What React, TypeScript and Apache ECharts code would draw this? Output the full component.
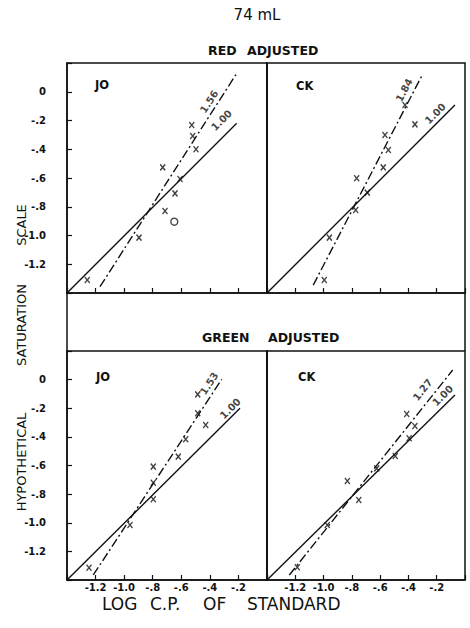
import React, { useEffect, useRef } from "react";
import * as echarts from "echarts";

// ---- data ----
const xTicks = [-1.2, -1.0, -0.8, -0.6, -0.4, -0.2];
const yTicks = [0, -0.2, -0.4, -0.6, -0.8, -1.0, -1.2];

// Red adjusted, JO
const joRedX = [-0.527, -0.52, -0.497, -0.73, -0.609, -0.644, -0.714, -0.896, -1.258];
const joRedY = [-0.231, -0.308, -0.4, -0.526, -0.607, -0.707, -0.83, -1.015, -1.31];
const joRedCircleX = [-0.649];
const joRedCircleY = [-0.904];
const joRedUnitLine = [[-1.4, -1.4], [-0.212, -0.219]];
const joRedFitLine = [[-1.169, -1.356], [-0.212, 0.128]];

// Red adjusted, CK
const ckRedX = [-0.424, -0.354, -0.566, -0.542, -0.578, -0.766, -0.691, -0.773, -0.959, -0.995];
const ckRedY = [-0.092, -0.227, -0.301, -0.405, -0.526, -0.602, -0.702, -0.823, -1.015, -1.31];
const ckRedUnitLine = [[-1.4, -1.4], [-0.071, -0.092]];
const ckRedFitLine = [[-1.073, -1.345], [-0.299, 0.123]];

// Green adjusted, JO
const joGreenX = [-0.485, -0.485, -0.429, -0.569, -0.621, -0.796, -0.796, -0.796, -0.959, -1.246];
const joGreenY = [-0.103, -0.235, -0.317, -0.417, -0.538, -0.608, -0.72, -0.836, -1.016, -1.314];
const joGreenUnitLine = [[-1.4, -1.4], [-0.189, -0.2]];
const joGreenFitLine = [[-1.216, -1.365], [-0.317, 0.002]];

// Green adjusted, CK
const ckGreenX = [-0.412, -0.354, -0.395, -0.493, -0.624, -0.832, -0.751, -0.974, -1.186];
const ckGreenY = [-0.24, -0.324, -0.41, -0.534, -0.62, -0.708, -0.841, -1.016, -1.311];
const ckGreenUnitLine = [[-1.4, -1.4], [-0.071, -0.107]];
const ckGreenFitLine = [[-1.242, -1.365], [-0.087, 0.067]];

// slope labels
const slopeLabels = ["1.56", "1.84", "1.53", "1.27"];
const unitLabel = "1.00";

const FONT = "DejaVu Sans";

export default function App() {
  const ref = useRef<HTMLDivElement>(null);
  useEffect(() => {
    if (!ref.current) return;
    const chart = echarts.init(ref.current, undefined, { renderer: "svg" });

    const grids = [
      { left: 67, top: 63, width: 200, height: 230 },
      { left: 267, top: 63, width: 198, height: 230 },
      { left: 67, top: 351, width: 200, height: 229 },
      { left: 267, top: 351, width: 198, height: 229 },
    ];

    const panels = [
      { xs: joRedX, ys: joRedY, unit: joRedUnitLine, fit: joRedFitLine, fitLabel: slopeLabels[0],
        fitLabelAt: [-0.405, -0.069], fitRot: 57, unitLabelAt: [-0.318, -0.198] },
      { xs: ckRedX, ys: ckRedY, unit: ckRedUnitLine, fit: ckRedFitLine, fitLabel: slopeLabels[1],
        fitLabelAt: [-0.43, 0.011], fitRot: 62, unitLabelAt: [-0.21, -0.152] },
      { xs: joGreenX, ys: joGreenY, unit: joGreenUnitLine, fit: joGreenFitLine, fitLabel: slopeLabels[2],
        fitLabelAt: [-0.405, -0.027], fitRot: 57, unitLabelAt: [-0.257, -0.202] },
      { xs: ckGreenX, ys: ckGreenY, unit: ckGreenUnitLine, fit: ckGreenFitLine, fitLabel: slopeLabels[3],
        fitLabelAt: [-0.3, -0.071], fitRot: 52, unitLabelAt: [-0.158, -0.112] },
    ];

    const fmt = (allowed: number[]) => (v: number) => {
      const r = Math.round(v * 10) / 10;
      if (!allowed.some((a) => Math.abs(a - r) < 1e-6)) return "";
      if (r === 0) return "0";
      return r.toFixed(1).replace("-0.", "-.");
    };

    const labelStyle = { fontFamily: FONT, fontSize: 10, fontWeight: "bold", color: "#111" };

    const series: any[] = [];
    panels.forEach((p, i) => {
      series.push({
        type: "scatter",
        xAxisIndex: i,
        yAxisIndex: i,
        symbol: "path://M0,0L10,12M10,0L0,12",
        symbolSize: [5, 6],
        itemStyle: { color: "none", borderColor: "#111", borderWidth: 1.4 },
        data: p.xs.map((x, k) => [x, p.ys[k]]),
        silent: true,
      });
      series.push({
        type: "line",
        xAxisIndex: i,
        yAxisIndex: i,
        data: p.unit,
        showSymbol: false,
        symbol: "none",
        lineStyle: { color: "#111", width: 1.4, type: "solid" },
        silent: true,
      });
      series.push({
        type: "line",
        xAxisIndex: i,
        yAxisIndex: i,
        data: p.fit,
        showSymbol: false,
        symbol: "none",
        lineStyle: { color: "#111", width: 1.4, type: [9, 3, 2, 3] },
        silent: true,
      });
      series.push({
        type: "scatter",
        xAxisIndex: i,
        yAxisIndex: i,
        symbolSize: 0,
        silent: true,
        data: [
          { value: p.fitLabelAt, label: { formatter: p.fitLabel, rotate: p.fitRot } },
          { value: p.unitLabelAt, label: { formatter: unitLabel, rotate: 45 } },
        ],
        label: { show: true, position: "inside", ...labelStyle },
      });
    });
    series.push({
      type: "scatter",
      xAxisIndex: 0,
      yAxisIndex: 0,
      symbol: "circle",
      symbolSize: 7,
      itemStyle: { color: "none", borderColor: "#111", borderWidth: 1.3 },
      data: joRedCircleX.map((x, k) => [x, joRedCircleY[k]]),
      silent: true,
    });

    const text = (t: string, x: number, y: number, size: number, weight: string, align = "left", rotation = 0) => ({
      type: "text",
      x,
      y,
      rotation,
      silent: true,
      style: {
        text: t,
        fontFamily: FONT,
        fontSize: size,
        fontWeight: weight,
        fill: "#111",
        textAlign: align,
        textVerticalAlign: "middle",
      },
    });

    const option: any = {
      animation: false,
      grid: grids.map((g) => ({ ...g, show: true, borderColor: "#111", borderWidth: 1.5 })),
      xAxis: grids.map((g, i) => ({
        type: "value",
        gridIndex: i,
        min: -1.4,
        max: 0,
        interval: 0.2,
        position: "bottom",
        axisLine: { show: true, onZero: false, lineStyle: { color: "#111", width: 1.5 } },
        axisTick: { show: true, inside: true, length: 5, lineStyle: { color: "#111", width: 1.2 } },
        axisLabel: { show: i >= 2, margin: 2, formatter: fmt(xTicks), ...labelStyle },
        splitLine: { show: false },
      })),
      yAxis: grids.map((g, i) => ({
        type: "value",
        gridIndex: i,
        min: -1.4,
        max: 0.2,
        interval: 0.2,
        position: "left",
        axisLine: { show: true, onZero: false, lineStyle: { color: "#111", width: 1.5 } },
        axisTick: { show: i % 2 === 0, inside: true, length: 5, lineStyle: { color: "#111", width: 1.2 } },
        axisLabel: { show: i % 2 === 0, margin: 21, formatter: fmt(yTicks), ...labelStyle },
        splitLine: { show: false },
      })),
      series,
      graphic: [
        { type: "line", silent: true, shape: { x1: 67, y1: 293, x2: 67, y2: 351 }, style: { stroke: "#111", lineWidth: 1.5 } },
        { type: "line", silent: true, shape: { x1: 465, y1: 293, x2: 465, y2: 351 }, style: { stroke: "#111", lineWidth: 1.5 } },
        text("74 mL", 257, 15, 15, "normal", "center"),
        text("RED", 208, 50, 12.5, "bold"),
        text("ADJUSTED", 247, 50, 12.5, "bold"),
        text("GREEN", 202, 337, 12.5, "bold"),
        text("ADJUSTED", 268, 337, 12.5, "bold"),
        text("JO", 95, 85, 11.5, "bold"),
        text("CK", 296, 86, 11.5, "bold"),
        text("JO", 96, 377, 11.5, "bold"),
        text("CK", 298, 377, 11.5, "bold"),
        text("LOG", 102, 604, 17, "normal"),
        text("C.P.", 150, 604, 17, "normal"),
        text("OF", 203, 604, 17, "normal"),
        text("STANDARD", 247, 604, 17, "normal"),
        text("SCALE", 21, 225, 13, "normal", "center", Math.PI / 2),
        text("SATURATION", 21, 325, 13, "normal", "center", Math.PI / 2),
        text("HYPOTHETICAL", 21, 462, 13, "normal", "center", Math.PI / 2),
      ],
    };
    chart.setOption(option);
    return () => chart.dispose();
  }, []);

  return (
    <div
      ref={ref}
      style={{ position: "absolute", left: 0, top: 0, width: 470, height: 628, background: "#fff" }}
    />
  );
}
